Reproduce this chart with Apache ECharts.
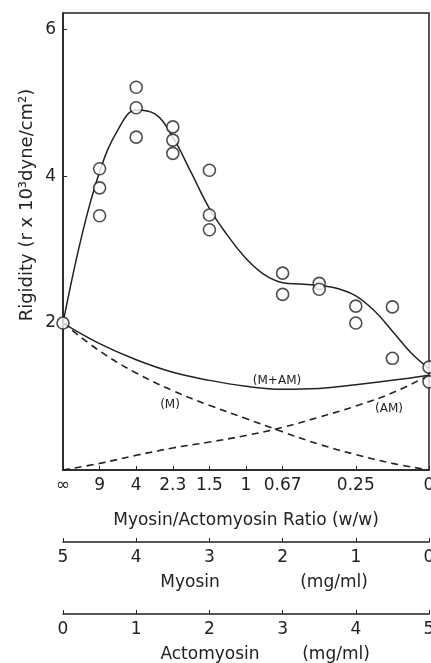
<!DOCTYPE html>
<html>
<head>
<meta charset="utf-8">
<script src="https://cdn.jsdelivr.net/npm/echarts@6/dist/echarts.min.js"></script>
<style>
  html, body { margin: 0; padding: 0; background: #fff; }
  #chart { width: 431px; height: 663px; }
</style>
</head>
<body>
<div id="chart"></div>
<script>
// x is actomyosin (mg/ml) 0..5, myosin = 5 - x
const RATIO_POS    = [0, 0.5, 1, 1.5, 2, 2.5, 3, 4, 5];
const RATIO_LABELS = ['∞', '9', '4', '2.3', '1.5', '1', '0.67', '0.25', '0'];
const MG_TICKS     = [0, 1, 2, 3, 4, 5];

// measured rigidity (circles)
const PTS_X = [0, 0.5, 0.5, 0.5, 1, 1, 1, 1.5, 1.5, 1.5, 2, 2, 2, 3, 3, 3.5, 3.5, 4, 4, 4.5, 4.5, 5, 5];
const PTS_Y = [2.0, 4.1, 3.84, 3.46, 5.21, 4.93, 4.53, 4.67, 4.49, 4.31, 4.08, 3.47, 3.27, 2.68, 2.39, 2.54, 2.46, 2.23, 2.0, 2.22, 1.52, 1.4, 1.2];

// fitted curve through the measured points
const FIT_X = [0, 0.25, 0.5, 0.75, 1, 1.25, 1.5, 1.75, 2, 2.25, 2.5, 2.75, 3, 3.25, 3.5, 3.75, 4, 4.25, 4.5, 4.75, 5];
const FIT_Y = [2.0, 3.16, 4.06, 4.63, 4.9, 4.85, 4.53, 4.05, 3.56, 3.19, 2.88, 2.66, 2.55, 2.53, 2.51, 2.47, 2.37, 2.17, 1.89, 1.6, 1.38];

// additive curves
const HALF_X  = [0, 0.5, 1, 1.5, 2, 2.5, 3, 3.5, 4, 4.5, 5];
const M_AM    = [2.0, 1.72, 1.5, 1.33, 1.22, 1.14, 1.1, 1.11, 1.16, 1.22, 1.29];
const M_ONLY  = [2.0, 1.62, 1.32, 1.08, 0.88, 0.7, 0.52, 0.35, 0.21, 0.09, 0.0];
const AM_ONLY = [0.0, 0.09, 0.2, 0.3, 0.38, 0.47, 0.58, 0.72, 0.87, 1.05, 1.29];

const INK = '#222';
const FONT = 'DejaVu Sans';
const FS = 17;

const zip = (xs, ys) => xs.map((x, i) => [x, ys[i]]);

const AXIS_BASE = {
  type: 'value', min: 0, max: 5, position: 'bottom',
  axisLine: { onZero: false, lineStyle: { color: INK, width: 1.5 } },
  axisTick: { inside: true, length: 4, lineStyle: { color: INK } },
  splitLine: { show: false },
  axisLabel: { color: INK, fontFamily: FONT, fontSize: FS, margin: 7 },
};

const lineSeries = (data, dashed) => ({
  type: 'line', data, smooth: 0.4, showSymbol: false, silent: true,
  lineStyle: { color: INK, width: dashed ? 1.6 : 1.5, type: dashed ? [7, 5] : 'solid' },
});

const text = (t, x, y, size) => ({
  type: 'text', x, y,
  style: { text: t, fill: INK, font: `${size}px "${FONT}"`, align: 'center', verticalAlign: 'middle' },
});

const chart = echarts.init(document.getElementById('chart'), null, { renderer: 'canvas' });
chart.setOption({
  backgroundColor: '#fff',
  animation: false,
  grid: {
    left: 63, right: 2, top: 13, bottom: 193, outerBoundsMode: 'none',
    show: true, borderColor: INK, borderWidth: 1.5,
  },
  xAxis: [
    {
      ...AXIS_BASE,
      axisTick: { ...AXIS_BASE.axisTick, customValues: RATIO_POS },
      axisLabel: {
        ...AXIS_BASE.axisLabel, customValues: RATIO_POS,
        formatter: v => RATIO_LABELS[RATIO_POS.indexOf(v)],
      },
      name: 'Myosin/Actomyosin Ratio (w/w)', nameLocation: 'middle', nameGap: 42,
      nameTextStyle: { color: INK, fontFamily: FONT, fontSize: FS },
    },
    {
      ...AXIS_BASE, inverse: true, offset: 72, interval: 1,
      axisTick: { ...AXIS_BASE.axisTick, customValues: MG_TICKS },
      axisLabel: { ...AXIS_BASE.axisLabel, customValues: MG_TICKS },
    },
    {
      ...AXIS_BASE, offset: 144, interval: 1,
      axisTick: { ...AXIS_BASE.axisTick, customValues: MG_TICKS },
      axisLabel: { ...AXIS_BASE.axisLabel, customValues: MG_TICKS },
    },
  ],
  yAxis: {
    type: 'value', min: 0, max: 6.22, interval: 2,
    axisLine: { show: true, lineStyle: { color: INK, width: 1.5 } },
    axisTick: { inside: true, length: 4, lineStyle: { color: INK } },
    splitLine: { show: false },
    axisLabel: { color: INK, fontFamily: FONT, fontSize: FS, margin: 7, formatter: v => (v === 0 ? '' : v) },
  },
  graphic: [
    { ...text('Rigidity (r x 10³dyne/cm²)', 27, 205, 18), rotation: Math.PI / 2 },
    text('Myosin', 190, 583, FS),
    text('(mg/ml)', 334, 583, FS),
    text('Actomyosin', 210, 655, FS),
    text('(mg/ml)', 336, 655, FS),
    text('(M+AM)', 277, 381, 12),
    text('(M)', 170, 405, 12),
    text('(AM)', 389, 409, 12),
  ],
  series: [
    lineSeries(zip(FIT_X, FIT_Y), false),
    lineSeries(zip(HALF_X, M_AM), false),
    lineSeries(zip(HALF_X, M_ONLY), true),
    lineSeries(zip(HALF_X, AM_ONLY), true),
    {
      type: 'scatter', data: zip(PTS_X, PTS_Y), symbol: 'circle', symbolSize: 12,
      itemStyle: { color: '#fff', borderColor: INK, borderWidth: 1.6 },
      z: 5,
    },
  ],
});
</script>
</body>
</html>
